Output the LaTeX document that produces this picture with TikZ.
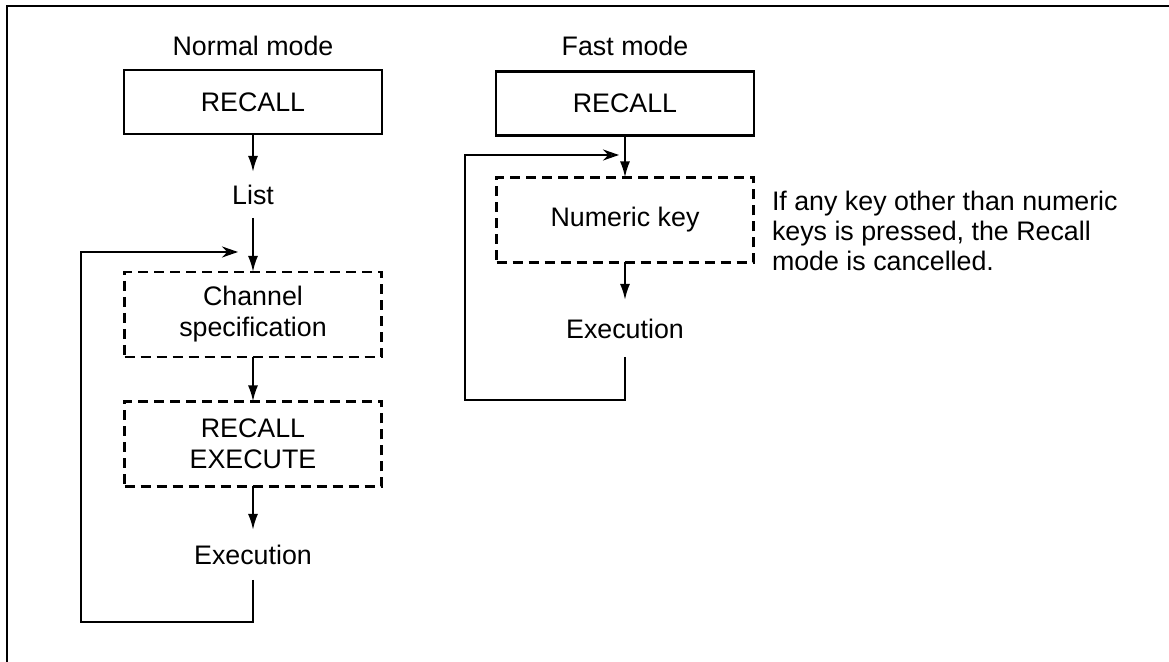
\documentclass[tikz,border=0pt]{standalone}
\usepackage{fontspec}
\setmainfont{Liberation Sans}
\usetikzlibrary{arrows.meta}
\begin{document}
\begin{tikzpicture}[x=0.5pt,y=-0.5pt,
  every node/.style={font=\fontsize{13.4}{15.5}\selectfont, inner sep=0pt, outer sep=0pt},
  line width=1.1pt,
  solidbox/.style={draw, minimum width=129pt, minimum height=32pt, align=center},
  dashbox/.style={draw, dash pattern=on 5pt off 3pt, minimum width=128.5pt, minimum height=42.5pt, align=center},
  txt/.style={align=center},
  arr/.style={-{Latex[length=8pt,width=5pt]}},
  fb/.style={-{Stealth[open,length=8pt,width=5.5pt]}},
]
\useasboundingbox (0,0) rectangle (1169,662);
% frame (top and left)
\draw (7,662) -- (7,6) -- (1169,6);

% ---- Normal mode ----
\node[txt] (ntitle) at (253,46) {Normal mode};
\node[solidbox] (nrec) at (253,102) {RECALL};
\node[txt, minimum height=23pt] (nlist) at (253,195) {List};
\node[dashbox] (nchan) at (253,314.5) {Channel\\specification};
\node[dashbox] (nexe) at (253,444) {RECALL\\EXECUTE};
\node[txt, minimum height=25pt] (nexec) at (253,555) {Execution};
\coordinate (nfb) at (238,252);
\coordinate (nc1) at (253,622);
\coordinate (nc2) at (81,622);
\coordinate (nc3) at (81,252);

\draw[arr] (nrec) -- (nlist);
\draw[arr] (nlist) -- (nchan);
\draw[arr] (nchan) -- (nexe);
\draw[arr] (nexe) -- (nexec);
\draw[fb] (nexec.south) -- (nc1) -- (nc2) -- (nc3) -- (nfb);

% ---- Fast mode ----
\node[txt] (ftitle) at (625,46) {Fast mode};
\node[solidbox] (frec) at (625,103.5) {RECALL};
\node[dashbox] (fnum) at (625,220) {Numeric key};
\node[txt, minimum height=28.5pt] (fexec) at (625,328.5) {Execution};
\coordinate (ffb) at (619,155);
\coordinate (fc1) at (625,400);
\coordinate (fc2) at (465,400);
\coordinate (fc3) at (465,155);

\draw[arr] (frec) -- (fnum);
\draw[arr] (fnum) -- (fexec);
\draw[fb] (fexec.south) -- (fc1) -- (fc2) -- (fc3) -- (ffb);

\node[anchor=north west, align=left, font=\fontsize{13.4}{15}\selectfont] (note) at (772,191)
  {If any key other than numeric\\keys is pressed, the Recall\\mode is cancelled.};
\end{tikzpicture}
\end{document}
